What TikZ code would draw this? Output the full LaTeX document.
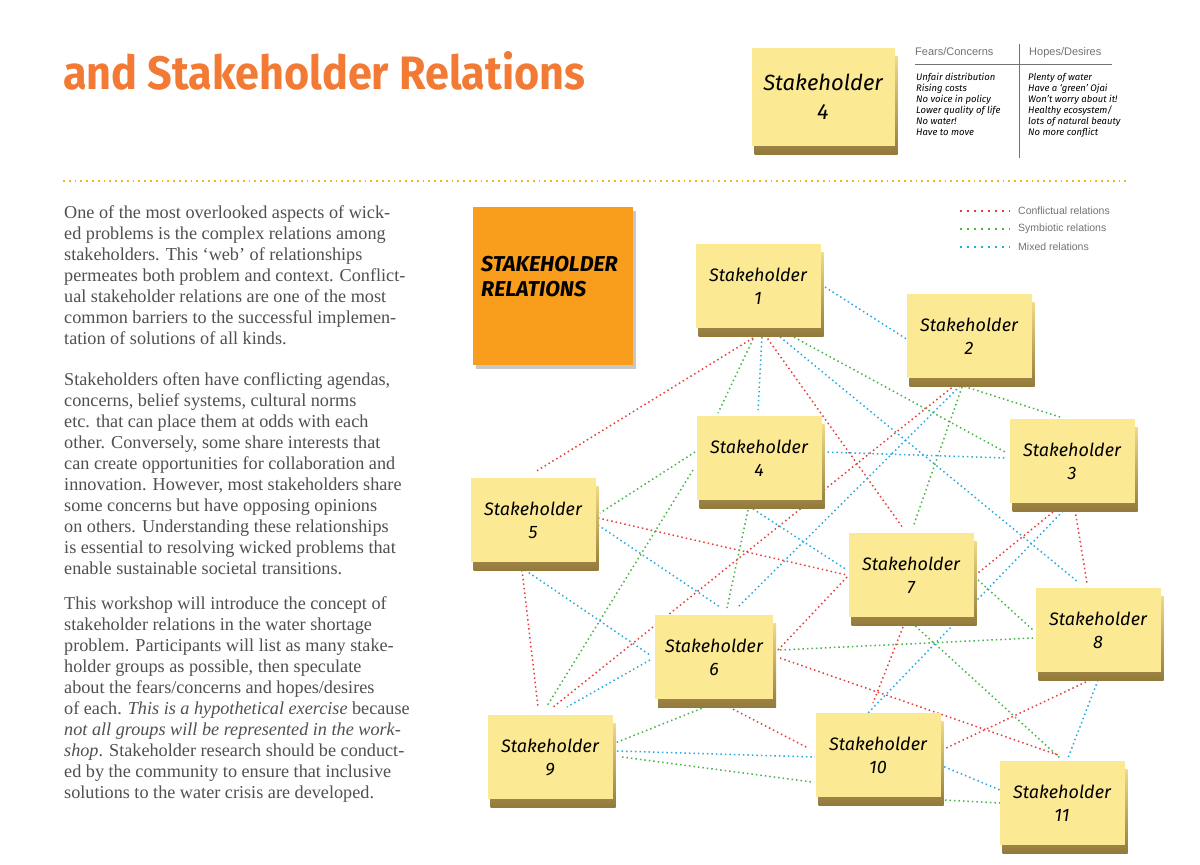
\documentclass[tikz,border=0pt]{standalone}
\usepackage{fontspec}
\setmainfont{Liberation Serif}
\newfontfamily\titlefont{Fira Sans}
\newfontfamily\handfont{Fira Sans}
\newfontfamily\labelfont{Liberation Sans}
\usetikzlibrary{shadows,calc}
\pgfdeclarelayer{bg}
\pgfdeclarelayer{lines}
\pgfsetlayers{bg,lines,main}
\definecolor{titleorange}{RGB}{242,122,52}
\definecolor{bodygray}{RGB}{80,80,80}
\definecolor{stickyc}{RGB}{252,233,148}
\definecolor{stickyshade}{RGB}{196,163,80}
\definecolor{orangenote}{RGB}{248,157,28}
\definecolor{confc}{RGB}{232,62,58}
\definecolor{symbc}{RGB}{72,180,72}
\definecolor{mixdc}{RGB}{38,170,226}
\definecolor{sepgold}{RGB}{244,180,30}
\definecolor{labelgray}{RGB}{115,115,115}
\begin{document}
\begin{tikzpicture}[x=1pt,y=-1pt,
  note/.style={rectangle, fill=stickyc, minimum width=125pt, minimum height=84pt, inner sep=0pt, align=center,
    font=\handfont\itshape\fontsize{18}{23}\selectfont,
    general shadow={top color=stickyc!80!stickyshade, bottom color=stickyshade!75!black, shadow xshift=3pt, shadow yshift=-8pt}},
  rel/.style={line width=1.5pt, dash pattern=on 1.5pt off 3pt},
  confl/.style={rel, draw=confc},
  symb/.style={rel, draw=symbc},
  mixd/.style={rel, draw=mixdc},
  legdots/.style={line width=2pt, dash pattern=on 2pt off 5pt},
  body/.style={anchor=north west, inner sep=0pt, align=left, text=bodygray, font=\fontsize{18.2}{21}\selectfont},
  hand/.style={anchor=north west, inner sep=0pt, align=left, font=\handfont\itshape\fontsize{9.5}{11}\selectfont},
  head/.style={anchor=base west, inner sep=0pt, text=labelgray, font=\labelfont\fontsize{11}{13}\selectfont},
  legtext/.style={anchor=west, inner sep=0pt, text=labelgray, font=\labelfont\fontsize{10.5}{12}\selectfont}
]
\useasboundingbox (0,0) rectangle (1200,865);
\begin{pgfonlayer}{bg}
\fill[white] (0,0) rectangle (1200,865);
\end{pgfonlayer}

% title
\node[anchor=base west, inner sep=0pt, text=titleorange] (title) at (63,89)
  {\resizebox{522pt}{38pt}{\titlefont\bfseries and Stakeholder Relations}};

% separator
\coordinate (sepA) at (63,181);
\coordinate (sepB) at (1128,181);
\draw[sepgold, line width=1.8pt, dash pattern=on 1.8pt off 4pt] (sepA) -- (sepB);

% top-right sticky and table
\node[note, minimum width=143pt, minimum height=98pt, font=\handfont\itshape\fontsize{22}{29}\selectfont] (top4) at (823,97) {Stakeholder\\4};
\node[head] (fearsh) at (915,55) {Fears/Concerns};
\node[head] (hopesh) at (1029,55) {Hopes/Desires};
\coordinate (hlA) at (915,64);
\coordinate (hlB) at (1112,64);
\coordinate (vlA) at (1019,44);
\coordinate (vlB) at (1019,158);
\draw[black!55, line width=0.8pt] (hlA) -- (hlB);
\draw[black!55, line width=0.8pt] (vlA) -- (vlB);
\node[hand] (fears) at (916,73) {Unfair distribution\\Rising costs\\No voice in policy\\Lower quality of life\\No water!\\Have to move};
\node[hand] (hopes) at (1028,73) {Plenty of water\\Have a ‘green’ Ojai\\Won’t worry about it!\\Healthy ecosystem/\\lots of natural beauty\\No more conflict};

% body text
\node[body] (p1) at (64,205) {One of the most overlooked aspects of wick-\\
ed problems is the complex relations among\\
stakeholders. This ‘web’ of relationships\\
permeates both problem and context. Conflict-\\
ual stakeholder relations are one of the most\\
common barriers to the successful implemen-\\
tation of solutions of all kinds.};
\node[body] (p2) at (64,372) {Stakeholders often have conflicting agendas,\\
concerns, belief systems, cultural norms\\
etc. that can place them at odds with each\\
other. Conversely, some share interests that\\
can create opportunities for collaboration and\\
innovation. However, most stakeholders share\\
some concerns but have opposing opinions\\
on others. Understanding these relationships\\
is essential to resolving wicked problems that\\
enable sustainable societal transitions.};
\node[body] (p3) at (64,596) {This workshop will introduce the concept of\\
stakeholder relations in the water shortage\\
problem. Participants will list as many stake-\\
holder groups as possible, then speculate\\
about the fears/concerns and hopes/desires\\
of each. \textit{This is a hypothetical exercise} because\\
\textit{not all groups will be represented in the work-}\\
\textit{shop}. Stakeholder research should be conduct-\\
ed by the community to ensure that inclusive\\
solutions to the water crisis are developed.};

% orange note
\node[rectangle, fill=orangenote, minimum width=160pt, minimum height=158pt, inner sep=0pt,
  general shadow={fill=black!22, shadow xshift=3pt, shadow yshift=-4pt}] (orange) at (553,286) {};
\node[anchor=west, inner sep=0pt, align=left, font=\handfont\bfseries\itshape\fontsize{21.5}{25}\selectfont] (orangetxt) at (481,277) {STAKEHOLDER\\RELATIONS};

% legend
\coordinate (lr1) at (960,211); \coordinate (lr2) at (1010,211);
\coordinate (lg1) at (960,229); \coordinate (lg2) at (1010,229);
\coordinate (lb1) at (960,247); \coordinate (lb2) at (1010,247);
\draw[confc, legdots] (lr1) -- (lr2);
\draw[symbc, legdots] (lg1) -- (lg2);
\draw[mixdc, legdots] (lb1) -- (lb2);
\node[legtext] (lt1) at (1018,211) {Conflictual relations};
\node[legtext] (lt2) at (1018,229) {Symbiotic relations};
\node[legtext] (lt3) at (1018,247) {Mixed relations};

% stakeholder notes
\node[note] (s1) at (758,286) {Stakeholder\\1};
\node[note] (s2) at (969,336) {Stakeholder\\2};
\node[note] (s3) at (1072,461) {Stakeholder\\3};
\node[note] (s4) at (759,458) {Stakeholder\\4};
\node[note] (s5) at (533,520) {Stakeholder\\5};
\node[note, minimum width=118pt] (s6) at (714,657) {Stakeholder\\6};
\node[note] (s7) at (911,575) {Stakeholder\\7};
\node[note] (s8) at (1098,630) {Stakeholder\\8};
\node[note] (s9) at (550,757) {Stakeholder\\9};
\node[note] (s10) at (878,755) {Stakeholder\\10};
\node[note] (s11) at (1062,803) {Stakeholder\\11};

\begin{pgfonlayer}{lines}
% conflictual
\draw[confl] ($(s1)+(-5,52)$) -- ($(s5)+(2,-48)$);
\draw[confl] ($(s1)+(7,49)$) -- ($(s7)+(-8,-47)$);
\draw[confl] ($(s2)+(-14,49)$) -- ($(s9)+(2,-49)$);
\draw[confl] ($(s3)+(-19,51)$) -- ($(s7)+(67,-2)$);
\draw[confl] ($(s3)+(3,49)$) -- ($(s8)+(-11,-47)$);
\draw[confl] ($(s5)+(65,-2)$) -- ($(s7)+(-64,0)$);
\draw[confl] ($(s5)+(-11,50)$) -- ($(s9)+(-12,-50)$);
\draw[confl] ($(s6)+(64,-7)$) -- ($(s7)+(-64,2)$);
\draw[confl] ($(s6)+(66,1)$) -- ($(s11)+(-4,-48)$);
\draw[confl] ($(s6)+(11,48)$) -- ($(s10)+(-70,-7)$);
\draw[confl] ($(s7)+(-8,52)$) -- ($(s10)+(-5,-52)$);
\draw[confl] ($(s8)+(-8,50)$) -- ($(s10)+(64,-5)$);
% symbiotic
\draw[symb] ($(s1)+(-3,49)$) -- ($(s4)+(-41,-45)$);
\draw[symb] ($(s1)+(32,49)$) -- ($(s3)+(-65,-8)$);
\draw[symb] ($(s2)+(-7,51)$) -- ($(s7)+(2,-48)$);
\draw[symb] ($(s2)+(-9,49)$) -- ($(s3)+(-12,-44)$);
\draw[symb] ($(s4)+(-64,-6)$) -- ($(s5)+(67,-7)$);
\draw[symb] ($(s4)+(-66,12)$) -- ($(s9)+(-3,-51)$);
\draw[symb] ($(s4)+(-11,52)$) -- ($(s6)+(13,-49)$);
\draw[symb] ($(s6)+(66,-7)$) -- ($(s8)+(-65,8)$);
\draw[symb] ($(s6)+(-4,48)$) -- ($(s9)+(65,-14)$);
\draw[symb] ($(s7)+(67,5)$) -- ($(s8)+(-65,0)$);
\draw[symb] ($(s7)+(1,48)$) -- ($(s11)+(-2,-45)$);
\draw[symb] ($(s9)+(72,0)$) -- ($(s10)+(-66,27)$);
\draw[symb] ($(s10)+(67,45)$) -- ($(s11)+(-62,0)$);
% mixed
\draw[mixd] ($(s1)+(67,1)$) -- ($(s2)+(-61,4)$);
\draw[mixd] ($(s1)+(4,51)$) -- ($(s4)+(-1,-48)$);
\draw[mixd] ($(s1)+(22,51)$) -- ($(s8)+(-20,-48)$);
\draw[mixd] ($(s2)+(-9,50)$) -- ($(s6)+(23,-49)$);
\draw[mixd] ($(s3)+(-9,50)$) -- ($(s10)+(-10,-42)$);
\draw[mixd] ($(s4)+(64,-6)$) -- ($(s3)+(-65,-3)$);
\draw[mixd] ($(s4)+(-6,51)$) -- ($(s7)+(-64,-5)$);
\draw[mixd] ($(s5)+(65,5)$) -- ($(s6)+(6,-50)$);
\draw[mixd] ($(s5)+(-8,50)$) -- ($(s6)+(-64,-2)$);
\draw[mixd] ($(s6)+(-64,3)$) -- ($(s9)+(17,-50)$);
\draw[mixd] ($(s8)+(0,50)$) -- ($(s11)+(6,-45)$);
\draw[mixd] ($(s9)+(67,-6)$) -- ($(s10)+(-63,2)$);
\draw[mixd] ($(s10)+(62,10)$) -- ($(s11)+(-62,-13)$);
\end{pgfonlayer}
\end{tikzpicture}
\end{document}
